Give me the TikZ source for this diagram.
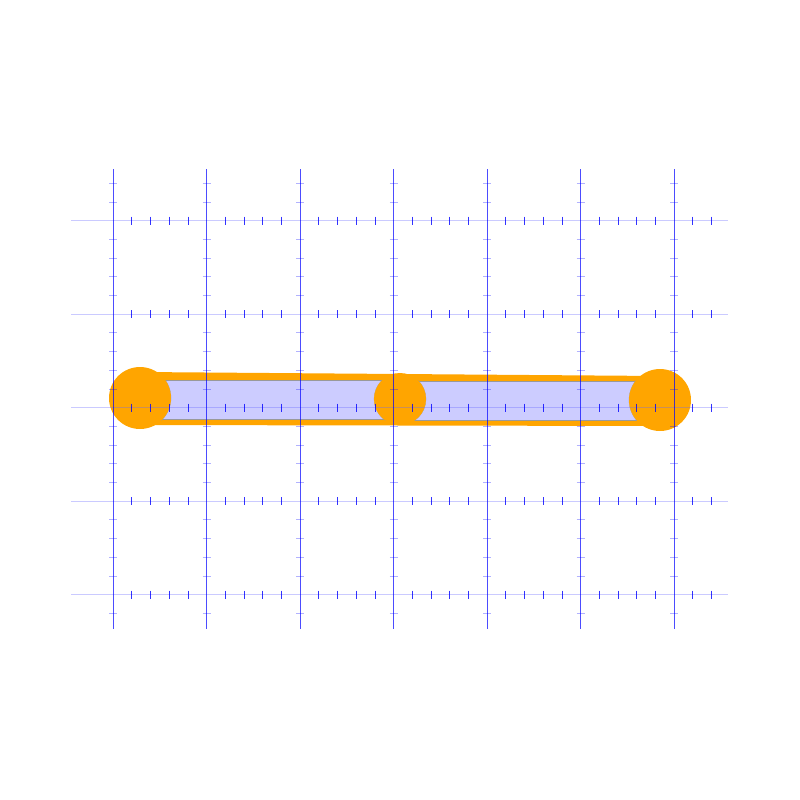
\documentclass[tikz,border=0pt]{standalone}
\definecolor{org}{HTML}{FFA500}
\begin{document}
\begin{tikzpicture}[x=1pt,y=-1pt,
  vline/.style={blue,line width=0.7pt,opacity=0.7},
  hline/.style={blue!60,line width=0.5pt,opacity=0.35},
  tick/.style={blue,line width=0.6pt,opacity=0.8},
  vtick/.style={blue,line width=0.5pt,opacity=0.3},
  band/.style={fill=org},
  inner/.style={fill=blue!20,draw=gray!80,line width=0.3pt},
  joint/.style={fill=org}]
\useasboundingbox (0,0) rectangle (800,800);
% orange band
\fill[band] (140,372) -- (660,376) -- (660,426) -- (140,425) -- cycle;
\draw[inner] (150,380) rectangle (400,419);
\draw[inner] (400,381) rectangle (650,420);
\begin{scope}
  \clip (150,380) rectangle (650,420);
  \draw[gray!80,line width=0.3pt] (140,398) circle (31) (400,399) circle (26) (660,400) circle (31);
\end{scope}
\node[joint,circle,minimum size=62pt,inner sep=0pt] (j1) at (140,398) {};
\node[joint,circle,minimum size=52pt,inner sep=0pt] (j2) at (400,399) {};
\node[joint,circle,minimum size=62pt,inner sep=0pt] (j3) at (660,400) {};
% grid
\foreach \j in {0,...,4} \draw[hline] (71,220.5+93.5*\j) -- (728,220.5+93.5*\j);
\foreach \k in {0,...,6} \draw[vline] (113+93.5*\k,169) -- (113+93.5*\k,629);
\foreach \j in {0,...,4} \foreach \m in {1,...,32} {
  \pgfmathtruncatemacro{\r}{mod(\m,5)}
  \ifnum\r=0\else \draw[tick] (113+18.7*\m,216.5+93.5*\j) -- (113+18.7*\m,224.5+93.5*\j);\fi }
\foreach \k in {0,...,6} \foreach \m in {-2,...,21} {
  \pgfmathtruncatemacro{\r}{mod(\m+10,5)}
  \ifnum\r=0\else \draw[vtick] (109+93.5*\k,220.5+18.7*\m) -- (117+93.5*\k,220.5+18.7*\m);\fi }
\end{tikzpicture}
\end{document}
